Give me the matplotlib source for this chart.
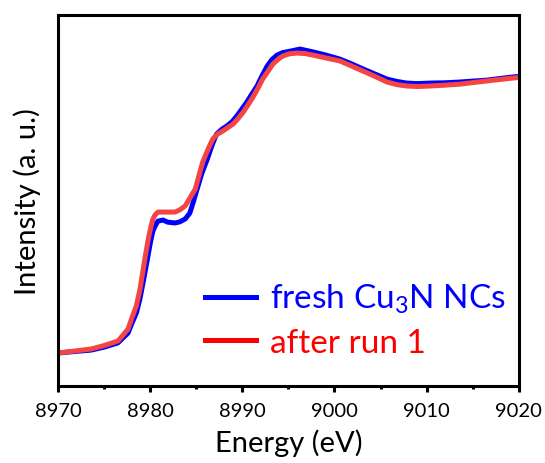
import matplotlib
matplotlib.use('Agg')
import matplotlib.pyplot as plt
from matplotlib.lines import Line2D
from matplotlib.ticker import MultipleLocator

#-------------------------------
# data (Cu K-edge XANES)

energy_fresh = [8970.0, 8973.6, 8975.0, 8976.5, 8977.0, 8977.6, 8978.0, 8978.5, 8978.9, 8979.2,
                8979.5, 8979.8, 8980.05, 8980.3, 8980.6, 8980.85, 8981.4, 8981.9, 8982.7, 8983.2,
                8983.8, 8984.3, 8984.7, 8985.1, 8985.6, 8986.2, 8986.7, 8987.2, 8987.8, 8988.3,
                8988.9, 8989.4, 8989.9, 8990.5, 8991.0, 8991.6, 8992.1, 8992.7, 8993.2, 8993.75,
                8994.4, 8995.2, 8996.25, 8997.7, 8999.0, 9000.6, 9001.8, 9003.1, 9004.4, 9005.7,
                9006.8, 9007.85, 9009.0, 9010.35, 9011.9, 9013.6, 9016.5, 9019.35, 9020.0]
intensity_fresh = [0.000, 0.011, 0.022, 0.038, 0.055, 0.075, 0.110, 0.150, 0.205, 0.259,
                   0.315, 0.372, 0.420, 0.459, 0.482, 0.496, 0.500, 0.492, 0.489, 0.493,
                   0.504, 0.526, 0.570, 0.617, 0.675, 0.729, 0.780, 0.823, 0.842, 0.853,
                   0.870, 0.891, 0.915, 0.944, 0.972, 1.004, 1.040, 1.079, 1.103, 1.120,
                   1.130, 1.135, 1.143, 1.132, 1.121, 1.105, 1.088, 1.068, 1.049, 1.030,
                   1.021, 1.015, 1.013, 1.015, 1.016, 1.019, 1.026, 1.038, 1.040]

energy_run1 = [8970.0, 8973.6, 8975.0, 8976.5, 8977.0, 8977.6, 8978.0, 8978.5, 8978.9, 8979.2,
               8979.5, 8979.8, 8980.05, 8980.3, 8980.55, 8980.85, 8981.6, 8982.7, 8983.2, 8983.8,
               8984.3, 8984.9, 8985.3, 8985.7, 8986.3, 8986.8, 8987.3, 8987.9, 8988.4, 8989.0,
               8989.5, 8990.1, 8990.6, 8991.15, 8991.7, 8992.2, 8992.8, 8993.3, 8993.9, 8994.4,
               8995.1, 8995.9, 8996.8, 8997.7, 8999.0, 9000.6, 9001.8, 9003.1, 9004.4, 9005.7,
               9006.8, 9007.85, 9009.0, 9010.35, 9011.9, 9013.6, 9016.5, 9019.35, 9020.0]
intensity_run1 = [0.000, 0.015, 0.028, 0.045, 0.065, 0.090, 0.130, 0.177, 0.240, 0.305,
                  0.370, 0.429, 0.470, 0.504, 0.520, 0.530, 0.530, 0.530, 0.538, 0.553,
                  0.582, 0.617, 0.668, 0.718, 0.768, 0.805, 0.823, 0.835, 0.847, 0.861,
                  0.880, 0.906, 0.932, 0.962, 0.996, 1.030, 1.060, 1.086, 1.105, 1.117,
                  1.125, 1.128, 1.126, 1.120, 1.110, 1.098, 1.080, 1.060, 1.040, 1.019,
                  1.009, 1.004, 1.002, 1.004, 1.007, 1.011, 1.023, 1.034, 1.036]

labels = ['fresh Cu$_3$N NCs', 'after run 1']
xticks = [8970, 8980, 8990, 9000, 9010, 9020]

#-------------------------------
# style

plt.rcParams['font.family'] = ['Lato', 'DejaVu Sans']
plt.rcParams['mathtext.fontset'] = 'custom'
plt.rcParams['mathtext.rm'] = 'Lato'
plt.rcParams['mathtext.it'] = 'Lato'

fig = plt.figure(figsize=(5.45, 4.64), dpi=100)
ax = fig.add_axes([0.1064, 0.166, 0.8456, 0.7995])

ax.plot(energy_fresh, intensity_fresh, color='#0000ff', lw=3.6, solid_joinstyle='round')
ax.plot(energy_run1, intensity_run1, color='#f44444', lw=3.6, solid_joinstyle='round')

ax.set_xlim(8970, 9020)
ax.set_ylim(-0.124, 1.271)
ax.set_xticks(xticks)
ax.xaxis.set_minor_locator(MultipleLocator(5))
ax.set_yticks([])

for s in ax.spines.values():
    s.set_linewidth(2.2)
ax.tick_params(axis='x', which='major', direction='out', length=4.5, width=2.2, labelsize=14.5, pad=7)
ax.tick_params(axis='x', which='minor', direction='out', length=2.5, width=2.2)

ax.set_xlabel('Energy (eV)', fontsize=21, labelpad=7)
ax.set_ylabel('Intensity (a. u.)', fontsize=21, labelpad=12)

# legend with coloured text
handles = [Line2D([], [], color='#0000ff', lw=3.6), Line2D([], [], color='#ff0000', lw=3.6)]
leg = ax.legend(handles, labels, loc='lower right', frameon=False, fontsize=24,
                handlelength=1.55, handletextpad=0.4, labelspacing=0.37,
                borderaxespad=0.0, bbox_to_anchor=(1.0, 0.04))
for txt, c in zip(leg.get_texts(), ['#0000ff', '#ff0000']):
    txt.set_color(c)

fig.savefig('out.png', dpi=100)
